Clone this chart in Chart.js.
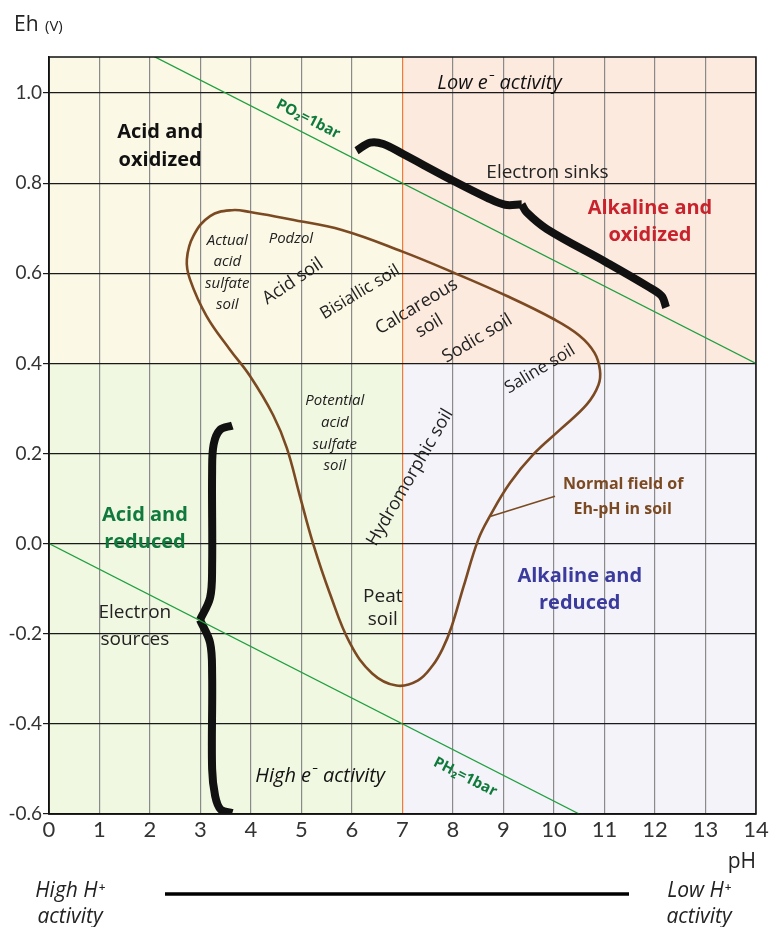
<!DOCTYPE html>
<html>
<head>
<meta charset="utf-8">
<script src="https://cdn.jsdelivr.net/npm/chart.js@4.4.1/dist/chart.umd.min.js"></script>
<style>
  html, body { margin: 0; padding: 0; background: #ffffff; }
  #wrap { width: 775px; height: 927px; position: relative; }
</style>
</head>
<body>
<div id="wrap"><canvas id="ehph"></canvas></div>
<script>
// Axis ticks
const phTicks = [0, 1, 2, 3, 4, 5, 6, 7, 8, 9, 10, 11, 12, 13, 14];
const ehTicks = [-0.6, -0.4, -0.2, 0.0, 0.2, 0.4, 0.6, 0.8, 1.0];

// Water stability limits
const po2PH = [0, 14];
const po2Eh = [1.2, 0.4];
const ph2PH = [0, 10.5];
const ph2Eh = [0, -0.6];

// Normal field of Eh-pH in soil (closed loop)
const fieldPH = [4.77, 5.8, 7.0, 8.0, 9.08, 10.0, 10.5, 10.8, 10.91, 10.88, 10.65, 10.12, 9.59, 9.13, 8.73, 8.5, 8.21, 7.97, 7.8, 7.6, 7.3, 6.88, 6.4, 5.96, 5.56, 5.23, 4.97, 4.71, 4.44, 3.98, 3.58, 3.12, 2.79, 2.73, 2.86, 3.19, 3.62, 3.98, 4.77];
const fieldEh = [0.72, 0.696, 0.648, 0.602, 0.549, 0.498, 0.462, 0.424, 0.385, 0.352, 0.309, 0.253, 0.198, 0.135, 0.061, 0.009, -0.095, -0.185, -0.232, -0.27, -0.304, -0.315, -0.288, -0.221, -0.11, 0.0, 0.105, 0.212, 0.285, 0.372, 0.431, 0.505, 0.587, 0.631, 0.683, 0.727, 0.74, 0.736, 0.72];

// Pointer from the label to the field
const leaderPH = [8.75, 10.02];
const leaderEh = [0.061, 0.105];

// Electron sinks brace (two halves meeting at the tip)
const sinkAPH = [6.09, 6.36, 6.62, 7.02, 7.94, 8.67, 9.03, 9.36];
const sinkAEh = [0.872, 0.890, 0.887, 0.864, 0.809, 0.768, 0.752, 0.753];
const sinkBPH = [9.36, 9.46, 9.86, 11.04, 11.84, 12.13, 12.22];
const sinkBEh = [0.753, 0.735, 0.698, 0.624, 0.572, 0.550, 0.524];

// Electron sources brace
const srcAPH = [3.63, 3.39, 3.26, 3.23, 3.23, 3.19, 2.99];
const srcAEh = [0.262, 0.253, 0.22, 0.16, -0.05, -0.12, -0.169];
const srcBPH = [2.99, 3.19, 3.23, 3.23, 3.29, 3.40, 3.63];
const srcBEh = [-0.169, -0.22, -0.29, -0.50, -0.56, -0.59, -0.598];

// Quadrant split
const splitPH = 7;
const splitEh = 0.4;

const FONT = "'Open Sans', Lato, 'DejaVu Sans', sans-serif";
const TICK_FONT = "Lato, 'Open Sans', sans-serif";
const BROWN = "#7b4a22";
const GREEN_LINE = "#1f9f3f";
const GREEN_TEXT = "#107a3c";

function pts(xs, ys) {
  return xs.map((x, i) => ({ x: x, y: ys[i] }));
}

function lineSet(xs, ys, color, width, tension) {
  return {
    data: pts(xs, ys),
    showLine: true,
    borderColor: color,
    borderWidth: width,
    pointRadius: 0,
    tension: tension || 0,
    fill: false,
  };
}

// Text labels placed in data coordinates
const notes = [
  { t: "Low e\u207B activity", x: 8.92, y: 1.022, f: "italic 20px", c: "#111" },
  { t: "Acid and", x: 2.2, y: 0.913, f: "bold 20px", c: "#111" },
  { t: "oxidized", x: 2.2, y: 0.851, f: "bold 20px", c: "#111" },
  { t: "PO\u2082=1bar", x: 5.13, y: 0.942, f: "bold 15px", c: GREEN_TEXT, r: 27 },
  { t: "Electron sinks", x: 9.87, y: 0.824, f: "19px", c: "#222" },
  { t: "Alkaline and", x: 11.9, y: 0.744, f: "bold 20px", c: "#c8232c" },
  { t: "oxidized", x: 11.9, y: 0.684, f: "bold 20px", c: "#c8232c" },
  { t: "Actual", x: 3.53, y: 0.672, f: "italic 15px", c: "#222" },
  { t: "acid", x: 3.53, y: 0.625, f: "italic 15px", c: "#222" },
  { t: "sulfate", x: 3.53, y: 0.576, f: "italic 15px", c: "#222" },
  { t: "soil", x: 3.53, y: 0.531, f: "italic 15px", c: "#222" },
  { t: "Podzol", x: 4.79, y: 0.676, f: "italic 15px", c: "#222" },
  { t: "Acid soil", x: 4.83, y: 0.582, f: "18px", c: "#222", r: -34 },
  { t: "Bisiallic soil", x: 6.16, y: 0.558, f: "17px", c: "#222", r: -31 },
  { t: "Calcareous", x: 7.28, y: 0.526, f: "18px", c: "#222", r: -31 },
  { t: "soil", x: 7.53, y: 0.483, f: "18px", c: "#222", r: -31 },
  { t: "Sodic soil", x: 8.48, y: 0.455, f: "18px", c: "#222", r: -31 },
  { t: "Saline soil", x: 9.72, y: 0.387, f: "17px", c: "#222", r: -31 },
  { t: "Potential", x: 5.66, y: 0.318, f: "italic 15px", c: "#222" },
  { t: "acid", x: 5.66, y: 0.268, f: "italic 15px", c: "#222" },
  { t: "sulfate", x: 5.66, y: 0.220, f: "italic 15px", c: "#222" },
  { t: "soil", x: 5.66, y: 0.172, f: "italic 15px", c: "#222" },
  { t: "Hydromorphic soil", x: 7.15, y: 0.147, f: "18px", c: "#222", r: -60 },
  { t: "Peat", x: 6.61, y: -0.117, f: "19px", c: "#222" },
  { t: "soil", x: 6.61, y: -0.169, f: "19px", c: "#222" },
  { t: "Normal field of", x: 11.37, y: 0.131, f: "bold 16px", c: BROWN },
  { t: "Eh-pH in soil", x: 11.36, y: 0.076, f: "bold 16px", c: BROWN },
  { t: "Alkaline and", x: 10.51, y: -0.073, f: "bold 20px", c: "#3b3b9e" },
  { t: "reduced", x: 10.51, y: -0.132, f: "bold 20px", c: "#3b3b9e" },
  { t: "Acid and", x: 1.9, y: 0.062, f: "bold 20px", c: GREEN_TEXT },
  { t: "reduced", x: 1.9, y: 0.003, f: "bold 20px", c: GREEN_TEXT },
  { t: "Electron", x: 1.7, y: -0.152, f: "19px", c: "#222" },
  { t: "sources", x: 1.7, y: -0.212, f: "19px", c: "#222" },
  { t: "High e\u207B activity", x: 5.37, y: -0.516, f: "italic 20px", c: "#111" },
  { t: "PH\u2082=1bar", x: 8.24, y: -0.518, f: "bold 15px", c: GREEN_TEXT, r: 27 },
];

// Plugin: coloured quadrants behind the grid
const quadrants = {
  id: "quadrants",
  beforeDraw(chart) {
    const { ctx, chartArea: a, scales } = chart;
    const mx = scales.x.getPixelForValue(splitPH);
    const my = scales.y.getPixelForValue(splitEh);
    ctx.save();
    ctx.fillStyle = "#fbf8e6";
    ctx.fillRect(a.left, a.top, mx - a.left, my - a.top);
    ctx.fillStyle = "#fdeadf";
    ctx.fillRect(mx, a.top, a.right - mx, my - a.top);
    ctx.fillStyle = "#f1f8e2";
    ctx.fillRect(a.left, my, mx - a.left, a.bottom - my);
    ctx.fillStyle = "#f3f3f9";
    ctx.fillRect(mx, my, a.right - mx, a.bottom - my);
    ctx.restore();
  },
};

// Plugin: frame, labels and the text outside the plot
const annotations = {
  id: "annotations",
  afterDatasetsDraw(chart) {
    const { ctx, chartArea: a, scales } = chart;
    ctx.save();
    ctx.strokeStyle = "#111";
    ctx.lineWidth = 1.5;
    ctx.strokeRect(a.left, a.top, a.right - a.left, a.bottom - a.top);

    ctx.textAlign = "center";
    ctx.textBaseline = "middle";
    notes.forEach((n) => {
      const px = scales.x.getPixelForValue(n.x);
      const py = scales.y.getPixelForValue(n.y);
      ctx.save();
      ctx.translate(px, py);
      if (n.r) ctx.rotate((n.r * Math.PI) / 180);
      ctx.font = n.f + " " + FONT;
      ctx.fillStyle = n.c;
      ctx.fillText(n.t, 0, 0);
      ctx.restore();
    });

    // axis titles
    ctx.fillStyle = "#222";
    ctx.textBaseline = "alphabetic";
    ctx.textAlign = "left";
    ctx.font = "21px " + FONT;
    ctx.fillText("Eh", 14, 31);
    ctx.font = "15px " + FONT;
    ctx.fillText("(V)", 45, 31);
    ctx.textAlign = "right";
    ctx.font = "21px " + FONT;
    ctx.fillText("pH", a.right, 868);

    // H+ activity bar
    ctx.textAlign = "center";
    ctx.font = "italic 21px " + FONT;
    ctx.fillText("High H\u207A", 70, 897);
    ctx.fillText("activity", 70, 923);
    ctx.fillText("Low H\u207A", 699, 897);
    ctx.fillText("activity", 699, 923);
    ctx.strokeStyle = "#000";
    ctx.lineWidth = 3.5;
    ctx.beginPath();
    ctx.moveTo(165, 894);
    ctx.lineTo(629, 894);
    ctx.stroke();
    ctx.restore();
  },
};

const ctx = document.getElementById("ehph").getContext("2d");

new Chart(ctx, {
  type: "scatter",
  data: {
    datasets: [
      lineSet(po2PH, po2Eh, GREEN_LINE, 1.3),
      lineSet(ph2PH, ph2Eh, GREEN_LINE, 1.3),
      lineSet(leaderPH, leaderEh, BROWN, 1.6),
      lineSet(fieldPH, fieldEh, BROWN, 2.6, 0.4),
      lineSet(sinkAPH, sinkAEh, "#111", 8, 0.35),
      lineSet(sinkBPH, sinkBEh, "#111", 8, 0.35),
      lineSet(srcAPH, srcAEh, "#111", 8, 0.35),
      lineSet(srcBPH, srcBEh, "#111", 8, 0.35),
    ],
  },
  options: {
    responsive: true,
    maintainAspectRatio: false,
    animation: false,
    layout: { padding: { top: 57, right: 19, bottom: 0, left: 0 } },
    plugins: {
      legend: { display: false },
      tooltip: { enabled: false },
    },
    scales: {
      x: {
        type: "linear",
        min: 0,
        max: 14,
        afterBuildTicks: (scale) => {
          scale.ticks = phTicks.map((v) => ({ value: v }));
        },
        afterFit: (scale) => {
          scale.height = 113;
        },
        ticks: {
          color: "#333",
          padding: 3,
          font: { family: TICK_FONT, size: 22 },
          maxRotation: 0,
        },
        grid: {
          drawTicks: false,
          color: (c) => (c.tick && c.tick.value === splitPH ? "#f07a3a" : "#8a8a8a"),
          lineWidth: 1.2,
        },
        border: { display: true, color: "#111", width: 1.5 },
      },
      y: {
        type: "linear",
        min: -0.6,
        max: 1.08,
        afterBuildTicks: (scale) => {
          scale.ticks = ehTicks.map((v) => ({ value: v }));
        },
        afterFit: (scale) => {
          scale.width = 49;
        },
        ticks: {
          color: "#333",
          padding: 1,
          font: { family: TICK_FONT, size: 19 },
          callback: (v) => Number(v).toFixed(1),
        },
        grid: {
          color: "#1a1a1a",
          lineWidth: 1.2,
          tickLength: 6,
        },
        border: { display: true, color: "#111", width: 1.5 },
      },
    },
  },
  plugins: [quadrants, annotations],
});
</script>
</body>
</html>
